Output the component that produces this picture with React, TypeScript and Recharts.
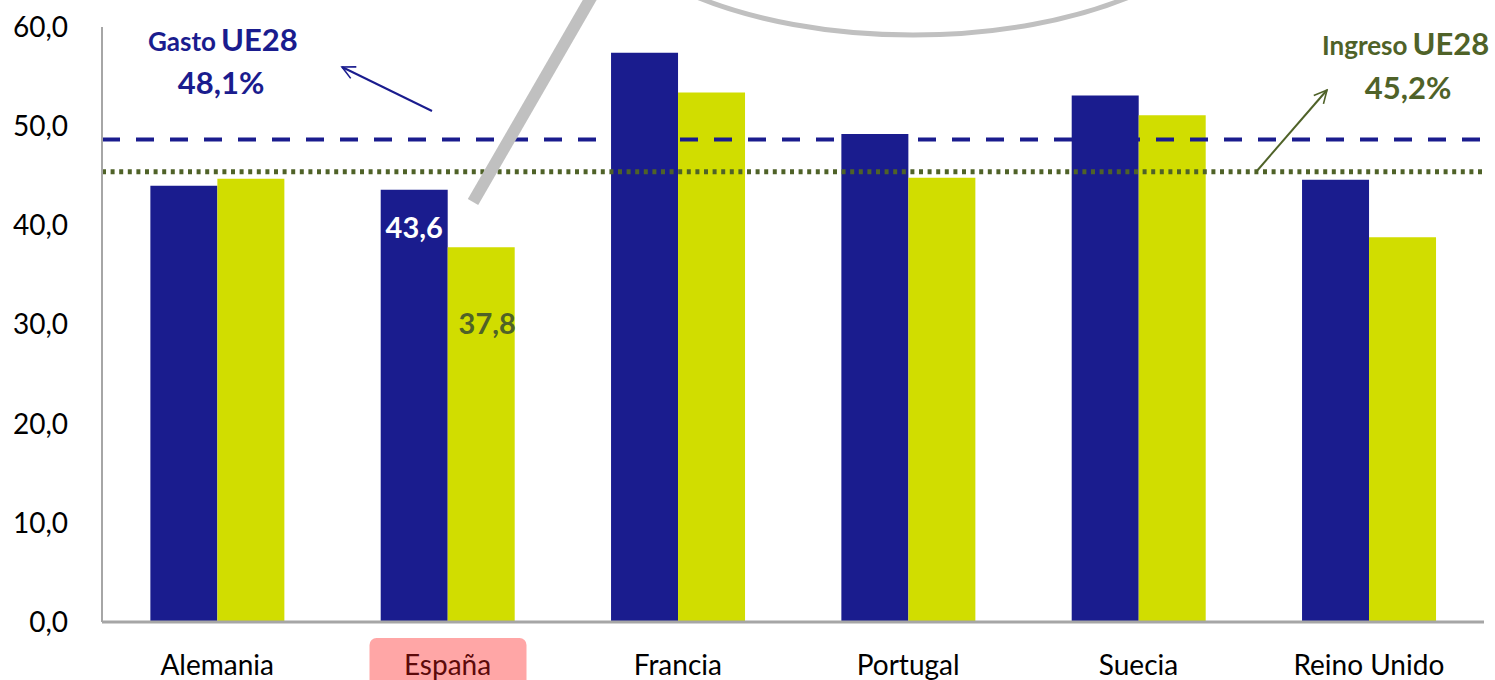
import React from "react";
import { BarChart, Bar, XAxis, YAxis, ReferenceLine } from "recharts";

const categories = ["Alemania", "España", "Francia", "Portugal", "Suecia", "Reino Unido"];
const gasto = [44.0, 43.6, 57.4, 49.2, 53.1, 44.6];
const ingreso = [44.7, 37.8, 53.4, 44.8, 51.1, 38.8];
const yTicks = [0, 10, 20, 30, 40, 50, 60];
const gastoUE = 48.65;
const ingresoUE = 45.4;

const data = categories.map((c, i) => ({ name: c, gasto: gasto[i], ingreso: ingreso[i] }));

const FONT = "Lato, 'Open Sans', sans-serif";
const BLUE = "#1A1C8E";
const GREEN = "#D1DD00";
const OLIVE = "#4F6228";
const fmt = (v: number) => v.toFixed(1).replace(".", ",");

const XTick = (props: any) => {
  const { x, y, payload } = props;
  const hl = payload.value === "España";
  return (
    <g>
      {hl && <rect x={x - 78} y={y + 14} width={157} height={50} rx={7} fill="#FFA6A6" />}
      <text x={x} y={y + 51} textAnchor="middle" fontFamily={FONT} fontSize={28} fill={hl ? "#5C0A0A" : "#000"}>
        {payload.value}
      </text>
    </g>
  );
};

const gastoLabel = (props: any) => {
  const { x, y, width, index, value } = props;
  if (index !== 1) return null;
  return (
    <text x={x + width / 2} y={y + 48} textAnchor="middle" fontFamily={FONT} fontWeight={700} fontSize={29} fill="#fff">
      {fmt(value)}
    </text>
  );
};
const ingresoLabel = (props: any) => {
  const { x, y, width, index, value } = props;
  if (index !== 1) return null;
  return (
    <text x={x + width / 2 + 6} y={y + 87} textAnchor="middle" fontFamily={FONT} fontWeight={700} fontSize={29} fill={OLIVE}>
      {fmt(value)}
    </text>
  );
};

export default function App() {
  return (
    <div style={{ position: "absolute", left: 0, top: 0, width: 1495, height: 680, background: "#fff", overflow: "hidden" }}>
      <BarChart
        width={1495}
        height={680}
        data={data}
        margin={{ top: 27, right: 11, bottom: 0, left: 0 }}
        barCategoryGap="21%"
        barGap={0}
      >
        <YAxis
          domain={[0, 60]}
          ticks={yTicks}
          interval={0}
          width={102}
          tickFormatter={fmt}
          tickLine={false}
          tickSize={0}
          tickMargin={34}
          axisLine={{ stroke: "#A6A6A6", strokeWidth: 2 }}
          tick={{ fontFamily: FONT, fontSize: 28, fill: "#000" }}
        />
        <XAxis
          dataKey="name"
          tickLine={false}
          tickSize={0}
          height={58}
          interval={0}
          axisLine={{ stroke: "#A6A6A6", strokeWidth: 3 }}
          tick={<XTick />}
        />
        <Bar dataKey="gasto" fill={BLUE} isAnimationActive={false} label={gastoLabel} />
        <Bar dataKey="ingreso" fill={GREEN} isAnimationActive={false} label={ingresoLabel} />
        <ReferenceLine y={gastoUE} stroke={BLUE} strokeWidth={4} strokeDasharray="18 16" />
        <ReferenceLine y={ingresoUE} stroke={OLIVE} strokeWidth={5} strokeDasharray="4 4.6" />
      </BarChart>
      <svg width={1495} height={680} style={{ position: "absolute", left: 0, top: 0, pointerEvents: "none" }}>
        <defs>
          <marker id="arrB" viewBox="0 0 20 20" refX="18" refY="10" markerWidth="16" markerHeight="16" orient="auto" markerUnits="userSpaceOnUse">
            <path d="M2 2 L18 10 L2 18" fill="none" stroke={BLUE} strokeWidth={2} />
          </marker>
          <marker id="arrG" viewBox="0 0 20 20" refX="18" refY="10" markerWidth="16" markerHeight="16" orient="auto" markerUnits="userSpaceOnUse">
            <path d="M2 2 L18 10 L2 18" fill="none" stroke={OLIVE} strokeWidth={2} />
          </marker>
        </defs>
        <ellipse cx={913} cy={-115} rx={325} ry={150} fill="none" stroke="#C0C0C0" strokeWidth={5} />
        <line x1={473} y1={202} x2={592} y2={-4} stroke="#C0C0C0" strokeWidth={12} />
        <text fontFamily={FONT} fontWeight={700} fill={BLUE}>
          <tspan x={148} y={51} fontSize={26}>Gasto</tspan>
          <tspan dx={5} fontSize={31}>UE28</tspan>
        </text>
        <text x={221} y={94} textAnchor="middle" fontFamily={FONT} fontWeight={700} fontSize={31} fill={BLUE}>48,1%</text>
        <line x1={432} y1={111} x2={342} y2={67} stroke={BLUE} strokeWidth={2} markerEnd="url(#arrB)" />
        <text fontFamily={FONT} fontWeight={700} fill={OLIVE}>
          <tspan x={1322} y={55} fontSize={26}>Ingreso</tspan>
          <tspan dx={5} fontSize={31}>UE28</tspan>
        </text>
        <text x={1408} y={99} textAnchor="middle" fontFamily={FONT} fontWeight={700} fontSize={31} fill={OLIVE}>45,2%</text>
        <line x1={1256} y1={172} x2={1327} y2={90} stroke={OLIVE} strokeWidth={2} markerEnd="url(#arrG)" />
      </svg>
    </div>
  );
}
